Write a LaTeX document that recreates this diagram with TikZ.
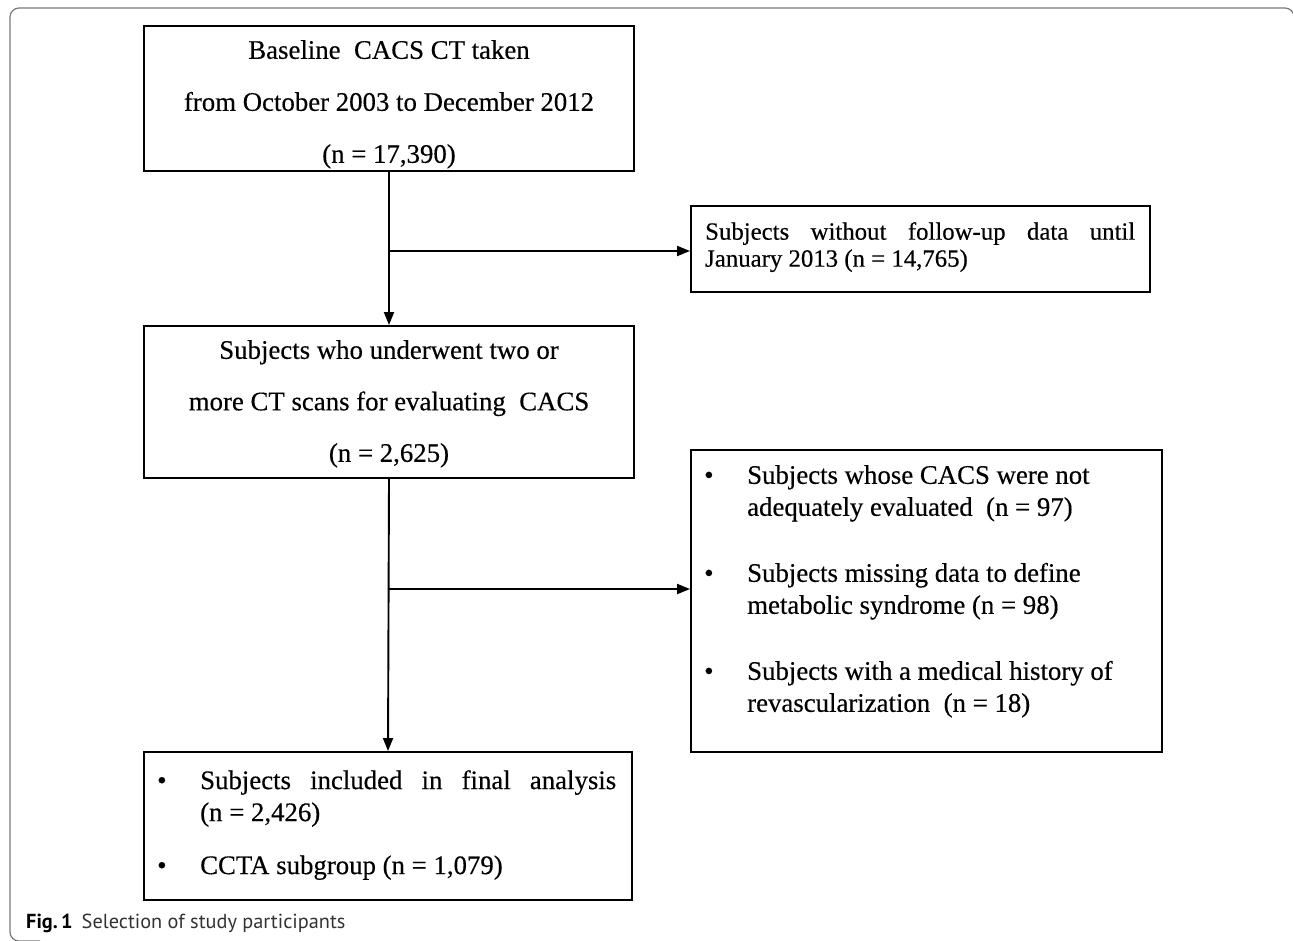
\documentclass[tikz,border=0pt]{standalone}
\usepackage{fontspec}
\setmainfont{Liberation Serif}[FakeBold=0.35]
\newfontfamily\capfont{PT Sans}
\usetikzlibrary{arrows.meta}
\definecolor{framegray}{HTML}{7A7A7A}
\definecolor{captext}{HTML}{333333}
\begin{document}
\begin{tikzpicture}[x=1pt,y=-1pt,
  box/.style={draw=black, line width=1.9pt, inner sep=0pt},
  ctext/.style={align=center, inner sep=0pt, anchor=north},
  ltext/.style={align=left, inner sep=0pt, anchor=north west},
  conn/.style={line width=1.9pt, -{Triangle[length=13pt,width=10pt]}},
  frameline/.style={draw=framegray, line width=1.2pt, rounded corners=9pt}]
\useasboundingbox (0,0) rectangle (1293,940);
\fill[white] (0,0) rectangle (1293,940);
\draw[frameline] (1294,22) -- (1294,8) -- (10,8) -- (10,941) -- (40,941);
% boxes
\node[box, minimum width=490pt, minimum height=145pt] (b1) at (389,98.5) {};
\node[box, minimum width=459pt, minimum height=86pt] (b2) at (920.5,249) {};
\node[box, minimum width=490pt, minimum height=152pt] (b3) at (389,402) {};
\node[box, minimum width=471pt, minimum height=302pt] (b5) at (926.5,601) {};
\node[box, minimum width=488pt, minimum height=148pt] (b4) at (388,826) {};
% texts
\node[ctext, font=\fontsize{26.8}{52}\selectfont] (t1) at (389,40)
  {Baseline\ \ CACS CT taken\\from October 2003 to December 2012\\(n = 17,390)};
\node[ltext, font=\fontsize{24.8}{27}\selectfont] (t2) at (705,222)
  {\makebox[430pt][s]{Subjects without follow-up data until}\\January 2013 (n = 14,765)};
\node[ctext, font=\fontsize{26.8}{51.5}\selectfont] (t3) at (389,340)
  {Subjects who underwent two or\\more CT scans for evaluating\ \ CACS\\(n = 2,625)};
\node[ltext, font=\fontsize{26.8}{32}\selectfont] (t5) at (704,465)
  {\makebox[43pt][l]{\textbullet}Subjects whose CACS were not\\
   \hspace*{43pt}adequately evaluated\ \ (n = 97)\\[34pt]
   \makebox[43pt][l]{\textbullet}Subjects missing data to define\\
   \hspace*{43pt}metabolic syndrome (n = 98)\\[34pt]
   \makebox[43pt][l]{\textbullet}Subjects with a medical history of\\
   \hspace*{43pt}revascularization\ \ (n = 18)};
\node[ltext, font=\fontsize{26.8}{32}\selectfont] (t4) at (157,770)
  {\makebox[43pt][l]{\textbullet}\makebox[416pt][s]{Subjects included in final analysis}\\
   \hspace*{43pt}(n = 2,426)\\[21pt]
   \makebox[43pt][l]{\textbullet}CCTA subgroup (n = 1,079)};
% connectors
\coordinate (j1) at (b1.south |- 0,251);
\coordinate (j2) at (b3.south |- 0,589);
\draw[conn] (b1.south) -- (b3.north);
\draw[conn] (j1) -- (j1 -| b2.west);
\draw[conn] (b3.south) -- (b4.north);
\draw[conn] (j2) -- (j2 -| b5.west);
% caption
\node[anchor=base west, inner sep=0pt, font=\capfont\fontsize{20.3}{24}\selectfont] (cap) at (26,928)
  {\textbf{Fig.\,1}\hspace{9pt}\textcolor{captext}{Selection of study participants}};
\end{tikzpicture}
\end{document}
